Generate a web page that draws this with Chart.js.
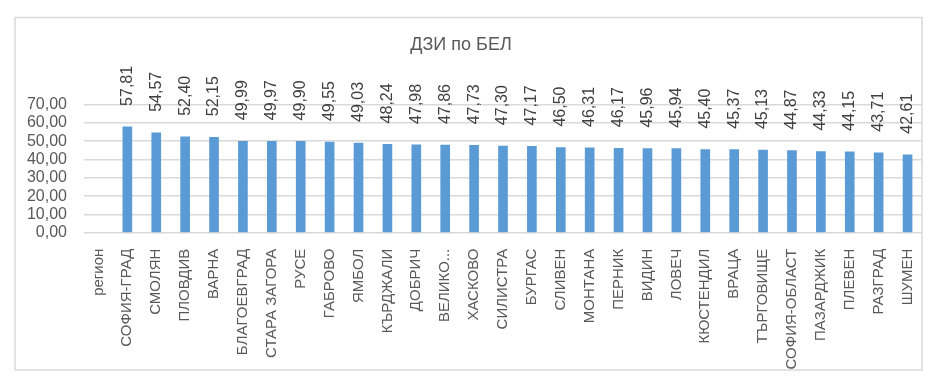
<!DOCTYPE html>
<html>
<head>
<meta charset="utf-8">
<script src="https://cdn.jsdelivr.net/npm/chart.js@4"></script>
<style>
  html, body { margin: 0; padding: 0; background: #ffffff; }
  canvas { display: block; }
</style>
</head>
<body>
<canvas id="c" width="937" height="382"></canvas>
<script>
const chartTitle = 'ДЗИ по БЕЛ';
const categories = ['регион', 'СОФИЯ-ГРАД', 'СМОЛЯН', 'ПЛОВДИВ', 'ВАРНА', 'БЛАГОЕВГРАД', 'СТАРА ЗАГОРА', 'РУСЕ', 'ГАБРОВО', 'ЯМБОЛ', 'КЪРДЖАЛИ', 'ДОБРИЧ', 'ВЕЛИКО...', 'ХАСКОВО', 'СИЛИСТРА', 'БУРГАС', 'СЛИВЕН', 'МОНТАНА', 'ПЕРНИК', 'ВИДИН', 'ЛОВЕЧ', 'КЮСТЕНДИЛ', 'ВРАЦА', 'ТЪРГОВИЩЕ', 'СОФИЯ-ОБЛАСТ', 'ПАЗАРДЖИК', 'ПЛЕВЕН', 'РАЗГРАД', 'ШУМЕН'];
const scores = [null, 57.81, 54.57, 52.40, 52.15, 49.99, 49.97, 49.90, 49.55, 49.03, 48.24, 47.98, 47.86, 47.73, 47.30, 47.17, 46.50, 46.31, 46.17, 45.96, 45.94, 45.40, 45.37, 45.13, 44.87, 44.33, 44.15, 43.71, 42.61];
const yTicks = [0, 10, 20, 30, 40, 50, 60, 70];

const FONT = '"Liberation Sans", Arial, sans-serif';
const fmt = v => Number(v).toFixed(2).replace('.', ',');

const frame = {
  id: 'frame',
  beforeDraw(chart) {
    const ctx = chart.ctx;
    ctx.save();
    ctx.fillStyle = '#ffffff';
    ctx.fillRect(0, 0, chart.width, chart.height);
    ctx.strokeStyle = '#d9d9d9';
    ctx.lineWidth = 1.5;
    ctx.strokeRect(15, 17.5, 907, 352.5);
    ctx.restore();
  }
};

const valueLabels = {
  id: 'valueLabels',
  afterDatasetsDraw(chart) {
    const ctx = chart.ctx;
    const meta = chart.getDatasetMeta(0);
    ctx.save();
    ctx.font = '16px ' + FONT;
    ctx.fillStyle = '#404040';
    ctx.textAlign = 'left';
    ctx.textBaseline = 'middle';
    meta.data.forEach((bar, i) => {
      const v = chart.data.datasets[0].data[i];
      if (v === null || v === undefined) return;
      ctx.save();
      ctx.translate(bar.x, bar.y - 21);
      ctx.rotate(-Math.PI / 2);
      ctx.fillText(fmt(v), 0, 0);
      ctx.restore();
    });
    ctx.restore();
  }
};

new Chart(document.getElementById('c'), {
  type: 'bar',
  data: {
    labels: categories,
    datasets: [{
      data: scores,
      backgroundColor: '#5b9bd5',
      borderWidth: 0,
      barThickness: 9
    }]
  },
  options: {
    responsive: false,
    devicePixelRatio: 1,
    animation: false,
    layout: { padding: { left: 0, right: 15, top: 0, bottom: 0 } },
    plugins: {
      legend: { display: false },
      tooltip: { enabled: false },
      title: {
        display: true,
        text: chartTitle,
        color: '#595959',
        font: { family: FONT, size: 18, weight: 'normal' },
        padding: { top: 34, bottom: 49 }
      }
    },
    scales: {
      x: {
        grid: { display: false },
        border: { display: false },
        ticks: {
          color: '#595959',
          font: { family: FONT, size: 15 },
          minRotation: 90,
          maxRotation: 90,
          autoSkip: false,
          padding: 8
        },
        afterFit(scale) { scale.height = 149.3; }
      },
      y: {
        min: 0,
        max: 70,
        afterBuildTicks(scale) { scale.ticks = yTicks.map(v => ({ value: v })); },
        grid: { color: '#d9d9d9', lineWidth: 1.5, drawTicks: false },
        border: { display: false },
        ticks: {
          color: '#595959',
          font: { family: FONT, size: 16 },
          padding: 17,
          autoSkip: false,
          callback: v => fmt(v)
        },
        afterFit(scale) { scale.width = 84; }
      }
    }
  },
  plugins: [frame, valueLabels]
});
</script>
</body>
</html>
